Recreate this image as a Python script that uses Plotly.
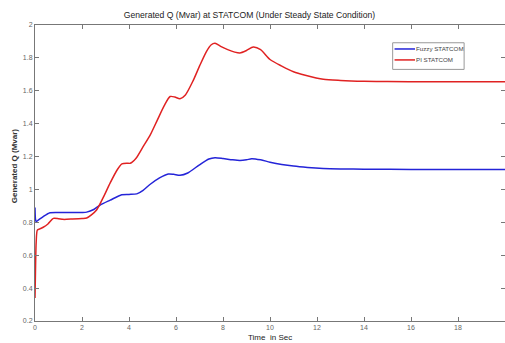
import plotly.graph_objects as go

title_text = "Generated Q (Mvar) at STATCOM (Under Steady State Condition)"
x_label = "Time  in Sec"
y_label = "Generated Q (Mvar)"

x_ticks = [0, 2, 4, 6, 8, 10, 12, 14, 16, 18, 20]
y_ticks = [0.2, 0.4, 0.6, 0.8, 1.0, 1.2, 1.4, 1.6, 1.8, 2.0]
y_tick_labels = ["0.2", "0.4", "0.6", "0.8", "1", "1.2", "1.4", "1.6", "1.8", "2"]

series_names = ["Fuzzy STATCOM", "PI STATCOM"]
series_colors = ["#2424d8", "#e02222"]

fuzzy_t = [0, 0.02, 0.05, 0.15, 0.35, 0.64, 1.0, 1.5, 2.0, 2.2, 2.5, 2.77, 3.2, 3.69, 4.0,
           4.33, 4.6, 4.89, 5.3, 5.67, 5.9, 6.17, 6.5, 7.0, 7.4, 7.66, 8.0, 8.4, 8.72, 9.0,
           9.22, 9.6, 10.0, 10.5, 11.0, 11.6, 12.26, 13, 14, 16, 20]
fuzzy_q = [0.89, 0.82, 0.805, 0.815, 0.835, 0.858, 0.86, 0.86, 0.86, 0.862, 0.878, 0.905,
           0.935, 0.968, 0.97, 0.973, 0.995, 1.03, 1.07, 1.094, 1.092, 1.086, 1.1, 1.15,
           1.185, 1.193, 1.188, 1.18, 1.176, 1.18, 1.187, 1.18, 1.166, 1.152, 1.142, 1.134,
           1.128, 1.125, 1.123, 1.122, 1.122]

pi_t = [0, 0.02, 0.05, 0.1, 0.2, 0.35, 0.55, 0.78, 1.0, 1.2, 1.6, 2.0, 2.2, 2.4, 2.62, 2.9,
        3.2, 3.5, 3.7, 3.9, 4.05, 4.3, 4.6, 4.9, 5.2, 5.5, 5.75, 5.95, 6.17, 6.4, 6.74, 7.0,
        7.3, 7.5, 7.66, 7.9, 8.2, 8.5, 8.72, 9.0, 9.29, 9.6, 10.0, 10.5, 11.0, 11.5, 12.27,
        13.0, 14.0, 15.0, 16.8, 18, 20]
pi_q = [0.34, 0.5, 0.68, 0.753, 0.76, 0.77, 0.79, 0.824, 0.822, 0.818, 0.82, 0.823, 0.826,
        0.845, 0.875, 0.95, 1.04, 1.12, 1.155, 1.16, 1.159, 1.19, 1.26, 1.33, 1.42, 1.51,
        1.565, 1.562, 1.552, 1.575, 1.665, 1.75, 1.84, 1.88, 1.889, 1.87, 1.85, 1.835, 1.83,
        1.845, 1.866, 1.85, 1.79, 1.75, 1.716, 1.695, 1.67, 1.663, 1.658, 1.656, 1.655,
        1.655, 1.655]

fig = go.Figure()
fig.add_trace(go.Scatter(x=fuzzy_t, y=fuzzy_q, mode="lines", name=series_names[0],
                         line=dict(color=series_colors[0], width=1.5, shape="spline", smoothing=0.7)))
fig.add_trace(go.Scatter(x=pi_t, y=pi_q, mode="lines", name=series_names[1],
                         line=dict(color=series_colors[1], width=1.5, shape="spline", smoothing=0.7)))

axis_common = dict(showgrid=False, zeroline=False, showline=True, linecolor="#777777",
                   linewidth=1, mirror="ticks", ticks="inside", ticklen=4, automargin=False,
                   tickcolor="#777777", tickfont=dict(size=7, color="#666666",
                                                      family="Liberation Sans Narrow, Liberation Sans"))

# custom legend box (paper coordinates)
shapes = [dict(type="rect", xref="paper", yref="paper", x0=0.761, x1=0.913, y0=0.850, y1=0.940,
               line=dict(color="#999999", width=1), fillcolor="white", layer="above")]
annotations = []
legend_rows = [0.919, 0.882]
for name, color, yy in zip(series_names, series_colors, legend_rows):
    shapes.append(dict(type="line", xref="paper", yref="paper", x0=0.765, x1=0.8085,
                       y0=yy, y1=yy, line=dict(color=color, width=1.5), layer="above"))
    annotations.append(dict(text=name, xref="paper", yref="paper", x=0.806, y=yy,
                            xanchor="left", yanchor="middle", showarrow=False,
                            font=dict(size=6.2, color="#444444",
                                      family="Liberation Sans Narrow, Liberation Sans")))

annotations += [
    dict(text=x_label, xref="paper", yref="paper", x=0.5, y=-0.035, xanchor="center",
         yanchor="top", showarrow=False,
         font=dict(size=8, color="#222222", family="Liberation Sans")),
    dict(text="<b>" + y_label + "</b>", xref="paper", yref="paper", x=-0.028, y=0.524,
         xanchor="right", yanchor="middle", showarrow=False, textangle=-90,
         font=dict(size=8, color="#333333", family="Liberation Sans Narrow, Liberation Sans")),
]

fig.update_layout(
    width=505, height=343,
    margin=dict(l=35, r=0, t=25, b=22),
    paper_bgcolor="white", plot_bgcolor="white",
    title=dict(text=title_text, x=0.494, xanchor="center", y=1 - 15 / 343, yanchor="middle",
               font=dict(size=8.6, color="#222222",
                         family="Liberation Sans Narrow, Liberation Sans")),
    xaxis=dict(range=[0, 20], tickvals=x_ticks, **axis_common),
    yaxis=dict(range=[0.2, 2.0], tickvals=y_ticks, ticktext=y_tick_labels, **axis_common),
    showlegend=False,
    shapes=shapes,
    annotations=annotations,
)

fig.write_html("out.html", config={"displayModeBar": False},
               post_script="document.body.style.margin='0';document.body.style.overflow='hidden';")
